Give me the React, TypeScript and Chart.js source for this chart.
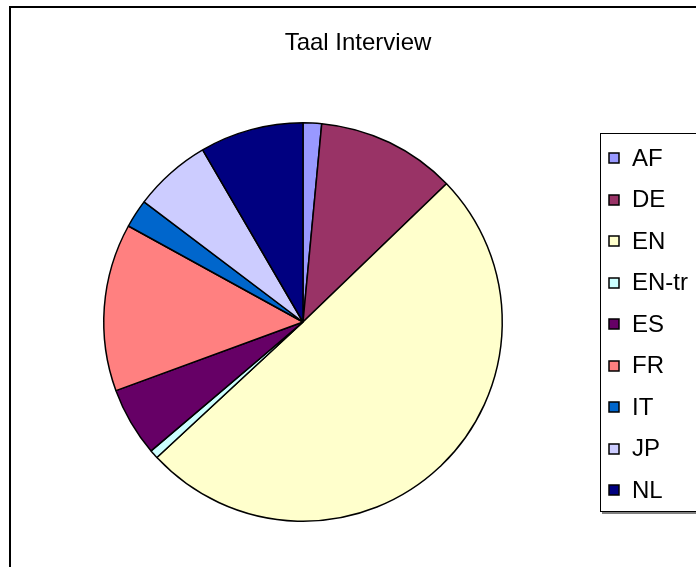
import React, { useEffect, useRef } from "react";
import { Chart, registerables } from "chart.js";

Chart.register(...registerables);

const labels = ["AF", "DE", "EN", "EN-tr", "ES", "FR", "IT", "JP", "NL"];
const values = [1.5, 11.3, 50.3, 0.7, 5.6, 13.6, 2.3, 6.3, 8.4];
const colors = ["#9999FF", "#993366", "#FFFFCC", "#CCFFFF", "#660066", "#FF8080", "#0066CC", "#CCCCFF", "#000080"];
const title = "Taal Interview";

const FONT = "'Liberation Sans', Arial, sans-serif";

const decor = {
  id: "decor",
  beforeDraw(chart: any) {
    const ctx = chart.ctx;
    ctx.save();
    ctx.fillStyle = "#fff";
    ctx.fillRect(0, 0, chart.width, chart.height);
    ctx.restore();
  },
  afterDraw(chart: any) {
    const ctx = chart.ctx;
    ctx.save();
    // outer frame
    ctx.strokeStyle = "#000";
    ctx.lineWidth = 2;
    ctx.strokeRect(10, 7, 1000, 1000);
    // title
    ctx.fillStyle = "#000";
    ctx.font = `24px ${FONT}`;
    ctx.textAlign = "center";
    ctx.textBaseline = "alphabetic";
    ctx.fillText(title, 358, 50);
    // legend box
    ctx.fillStyle = "#808080";
    ctx.fillRect(602, 512, 200, 2);
    ctx.lineWidth = 1;
    ctx.strokeStyle = "#000";
    ctx.fillStyle = "#fff";
    ctx.fillRect(600.5, 133.5, 200, 378);
    ctx.strokeRect(600.5, 133.5, 200, 378);
    const lbls = chart.data.labels;
    const cols = chart.data.datasets[0].backgroundColor;
    ctx.font = `24px ${FONT}`;
    ctx.textAlign = "left";
    ctx.textBaseline = "middle";
    for (let i = 0; i < lbls.length; i++) {
      const cy = 158 + i * 41.5;
      ctx.fillStyle = cols[i];
      ctx.fillRect(609, Math.round(cy) - 5, 10, 10);
      ctx.lineWidth = 1.5;
      ctx.strokeStyle = "#000";
      ctx.strokeRect(609, Math.round(cy) - 5, 10, 10);
      ctx.fillStyle = "#000";
      ctx.fillText(lbls[i], 632, cy + 1);
    }
    ctx.restore();
  },
};

export default function App() {
  const ref = useRef<HTMLCanvasElement>(null);
  useEffect(() => {
    const chart = new Chart(ref.current!, {
      type: "pie",
      data: {
        labels,
        datasets: [
          {
            data: values,
            backgroundColor: colors,
            borderColor: "#000",
            borderWidth: 1.5,
            hoverOffset: 0,
          },
        ],
      },
      options: {
        responsive: false,
        animation: false,
        events: [],
        layout: { padding: { left: 103, right: 193, top: 122, bottom: 45 } },
        plugins: {
          legend: { display: false },
          title: { display: false },
          tooltip: { enabled: false },
        },
      },
      plugins: [decor],
    });
    return () => chart.destroy();
  }, []);
  return (
    <div style={{ position: "fixed", left: 0, top: 0, width: 696, height: 567, background: "#fff" }}>
      <canvas ref={ref} width={696} height={567} />
    </div>
  );
}
